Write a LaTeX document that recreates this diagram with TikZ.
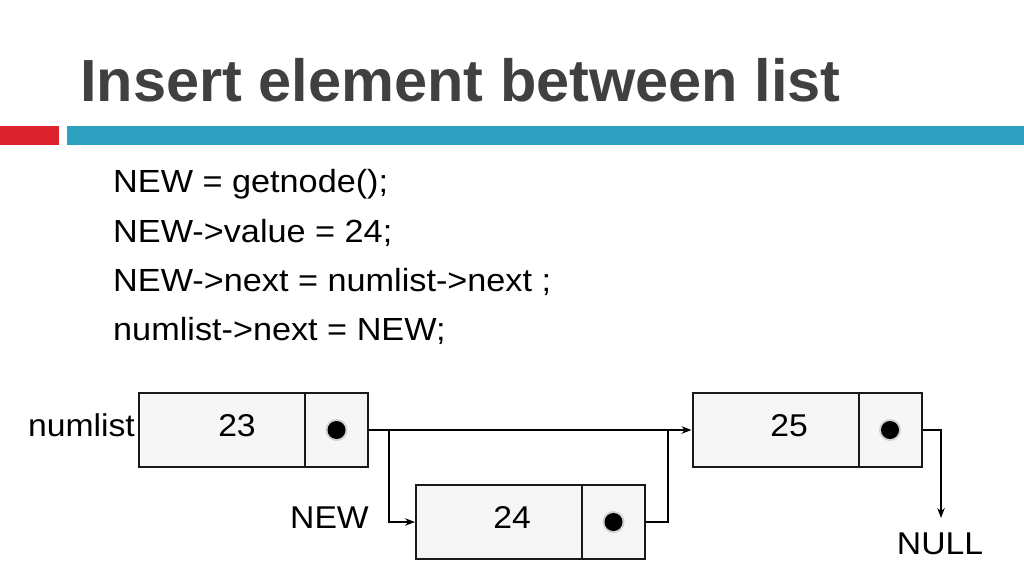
\documentclass[tikz,border=0pt]{standalone}
\usepackage{fontspec}
\setmainfont{Liberation Sans}
\newfontfamily\widefont[FakeStretch=1.07]{Liberation Sans}
\usetikzlibrary{arrows.meta}
\definecolor{titlegray}{RGB}{64,64,64}
\definecolor{barred}{RGB}{220,34,44}
\definecolor{barblue}{RGB}{44,160,190}
\definecolor{boxfill}{RGB}{246,246,246}
\definecolor{boxline}{RGB}{25,25,25}
\tikzset{
  cell/.style={draw=boxline, line width=2pt, fill=boxfill, rectangle, inner sep=0pt, minimum height=74pt},
  datacell/.style={cell, minimum width=166pt},
  ptrcell/.style={cell, minimum width=63pt},
  dot/.style={circle, fill=black, inner sep=0pt, minimum size=18pt},
  halo/.style={circle, fill=black!18, inner sep=0pt, minimum size=22pt},
  code/.style={anchor=base west, inner sep=0pt, font=\widefont\fontsize{32}{38}\selectfont},
  lbl/.style={inner sep=0pt, font=\widefont\fontsize{31.5}{38}\selectfont},
  link/.style={line width=1.1pt, draw=black},
  tip/.style={-{Stealth[length=10pt,width=7.5pt]}}
}
\begin{document}
\begin{tikzpicture}[x=1pt,y=-1pt]
\useasboundingbox (0,0) rectangle (1024,576);
\fill[white] (0,0) rectangle (1024,576);
% title and bars
\node[anchor=base west, inner sep=0pt, text=titlegray, font=\fontsize{59.5}{70}\selectfont\bfseries] (title) at (80,101) {Insert element between list};
\fill[barred] (0,126) rectangle (59,145);
\fill[barblue] (67,126) rectangle (1024,145);
% code
\node[code] (c1) at (113,192) {NEW = getnode();};
\node[code] (c2) at (113,242) {NEW->value = 24;};
\node[code] (c3) at (113,291) {NEW->next = numlist->next ;};
\node[code] (c4) at (113,340) {numlist->next = NEW;};
% list nodes
\node[datacell] (b1d) at (222,430) {};
\node[ptrcell] (b1p) at (336.5,430) {};
\node[datacell] (b2d) at (499,522) {};
\node[ptrcell] (b2p) at (613.5,522) {};
\node[datacell] (b3d) at (775.5,430) {};
\node[ptrcell] (b3p) at (890,430) {};
\node[lbl, anchor=base] (v1) at (237,436) {23};
\node[lbl, anchor=base] (v2) at (512,528) {24};
\node[lbl, anchor=base] (v3) at (789,436) {25};
\foreach \p in {b1p,b2p,b3p}{
  \node[halo] at (\p.center) {};
  \node[dot] (\p dot) at (\p.center) {};
}
% labels
\node[lbl, anchor=base east] (numlist) at (135,436) {numlist};
\node[lbl, anchor=base east] (newlbl) at (369,528) {NEW};
\node[lbl, anchor=base] (null) at (940,554) {NULL};
% connectors
\coordinate (split) at (389,430);
\coordinate (join) at (668,430);
\coordinate (nullbend) at (941,430);
\coordinate (nulltip) at (941,518);
\draw[link, tip] (b1p.east) -- (b3d.west);
\draw[link, tip] (split) |- (b2d.west);
\draw[link] (b2p.east) -| (join);
\draw[link, tip] (b3p.east) -- (nullbend) -- (nulltip);
\end{tikzpicture}
\end{document}
